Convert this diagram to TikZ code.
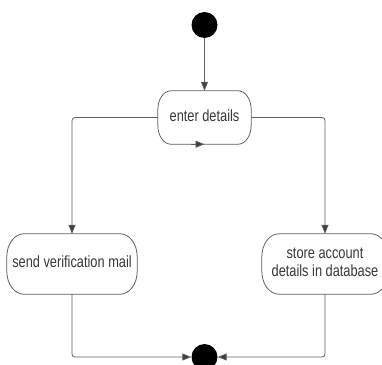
\documentclass[tikz,border=0pt]{standalone}
\usepackage{fontspec}
\setmainfont{Liberation Sans}
\usetikzlibrary{arrows.meta,calc}
\definecolor{lin}{RGB}{95,95,100}
\definecolor{tip}{RGB}{60,62,72}
\definecolor{txt}{RGB}{55,55,60}
\newcommand\sqtext[1]{\scalebox{0.79}[1]{\begin{tabular}{@{}c@{}}#1\end{tabular}}}
% elliptical-corner outline around a named node: #1 node, #2 x radius, #3 y radius
\newcommand\stadium[3]{%
  \draw[outline] let \p1=(#1.north west), \p2=(#1.south east) in
    (\x1+#2pt,\y1) -- (\x2-#2pt,\y1)
    .. controls (\x2-0.4477*#2pt,\y1) and (\x2,\y1-0.4477*#3pt) .. (\x2,\y1-#3pt)
    -- (\x2,\y2+#3pt)
    .. controls (\x2,\y2+0.4477*#3pt) and (\x2-0.4477*#2pt,\y2) .. (\x2-#2pt,\y2)
    -- (\x1+#2pt,\y2)
    .. controls (\x1+0.4477*#2pt,\y2) and (\x1,\y2+0.4477*#3pt) .. (\x1,\y2+#3pt)
    -- (\x1,\y1-#3pt)
    .. controls (\x1,\y1-0.4477*#3pt) and (\x1+0.4477*#2pt,\y1) .. cycle;}
\begin{document}
\begin{tikzpicture}[x=1pt,y=-1pt,
  state/.style={rectangle, text=txt, font=\fontsize{16.2}{18.3}\selectfont,
    align=center, inner sep=0pt},
  outline/.style={draw=lin, line width=0.8pt},
  dot/.style={circle, fill=black, minimum size=24pt, inner sep=0pt},
  conn/.style={draw=lin, line width=0.8pt, rounded corners=3pt,
    -{Triangle[length=9pt,width=7pt,fill=tip]}, color=lin}]
\useasboundingbox (0,0) rectangle (382,364);
\node[dot, minimum height=26pt, minimum width=23pt] (start) at (204.5,25) {};
\node[state, minimum width=93pt, minimum height=53pt] (enter) at (204.5,117.5) {\sqtext{enter details}};
\node[state, minimum width=130pt, minimum height=60pt] (send) at (72,264) {\sqtext{send verification mail}};
\node[state, minimum width=126pt, minimum height=60pt] (store) at (325,264) {\sqtext{store account\\details in database}};
\node[dot, minimum height=26pt] (end) at (204.5,357) {};
\stadium{enter}{13}{19}
\stadium{send}{17}{23}
\stadium{store}{17}{23}
\draw[conn] (start) -- (enter.north);
\draw[conn] (enter.west) -| (send.north);
\draw[conn] (enter.east) -| (store.north);
\draw[conn] (send.south) |- (end.west);
\draw[conn] (store.south) |- (end.east);
\coordinate (loopstart) at ([xshift=-14pt]enter.south);
\draw[conn] (loopstart) -- (enter.south);
\end{tikzpicture}
\end{document}
